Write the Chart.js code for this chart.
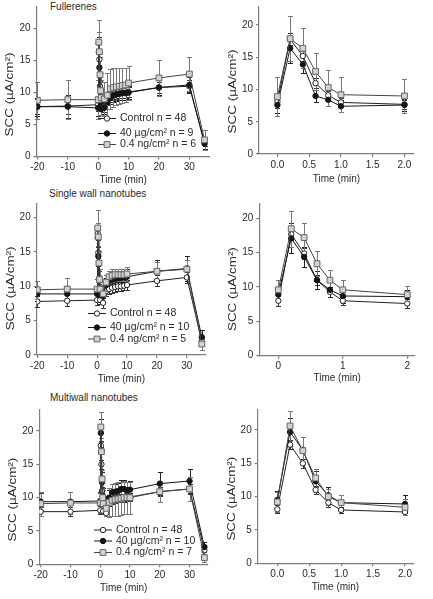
<!DOCTYPE html>
<html>
<head>
<meta charset="utf-8">
<script src="https://cdn.jsdelivr.net/npm/chart.js@4.4.1/dist/chart.umd.min.js"></script>
<style>
  body { margin: 0; background: #fff; width: 433px; height: 599px; position: relative; overflow: hidden;
         font-family: "Liberation Sans", Arial, sans-serif; }
  canvas { position: absolute; }
  .ttl { position: absolute; font-size: 10px; line-height: 12px; color: #2a2a2a; white-space: nowrap; }
</style>
</head>
<body>
<div class="ttl" style="left:50px;top:1px">Fullerenes</div>
<div class="ttl" style="left:49px;top:188px">Single wall nanotubes</div>
<div class="ttl" style="left:50px;top:392px">Multiwall nanotubes</div>
<canvas id="p1"></canvas><canvas id="p2"></canvas>
<canvas id="p3"></canvas><canvas id="p4"></canvas>
<canvas id="p5"></canvas><canvas id="p6"></canvas>
<script>
// time points (min); the right-hand panels show the 0-2 min part
const minutes = [-20, -10, 0, 0.2, 0.4, 0.6, 0.8, 1, 2, 3, 4, 5, 6, 7, 8, 9, 10, 20, 30, 35];
const yTicks = [0, 5, 10, 15, 20];
const longTicks = [-20, -10, 0, 10, 20, 30];
const shortTicks = [0, 0.5, 1, 1.5, 2];
const shortTicksInt = [0, 1, 2];

// Fullerenes
const fulControl    = [7.8, 7.9, 8.1, 17.8, 15.2, 11.0, 9.1, 8.0, 7.7, 8.8, 9.3, 9.6, 9.8, 9.9, 10.0, 10.0, 10.1, 10.8, 11.0, 2.2];
const fulControlSem = [1.2, 1.2, 1.0, 0.9, 0.8, 0.8, 0.7, 0.7, 0.7, 0.8, 0.8, 0.8, 0.8, 0.8, 0.8, 0.8, 0.8, 0.9, 0.9, 0.6];
const ful40ug       = [7.8, 7.8, 7.6, 16.4, 13.9, 9.0, 8.4, 7.4, 7.6, 8.5, 9.2, 9.5, 9.7, 9.8, 9.9, 9.9, 10.0, 10.8, 11.2, 2.0];
const ful40ugSem    = [1.4, 1.8, 1.2, 2.3, 1.3, 1.0, 1.0, 0.9, 1.0, 1.0, 1.0, 1.0, 1.0, 1.0, 1.0, 1.0, 1.0, 1.2, 1.3, 0.8];
const ful04ng       = [8.8, 8.9, 8.9, 17.9, 16.4, 12.8, 10.3, 9.2, 9.0, 9.6, 10.6, 10.8, 10.9, 11.0, 11.1, 11.2, 11.5, 12.3, 12.9, 2.6];
const ful04ngSem    = [2.9, 3.0, 3.0, 3.5, 3.1, 2.8, 2.8, 2.7, 2.7, 3.4, 3.1, 3.0, 2.9, 2.8, 2.7, 2.6, 2.6, 2.8, 2.7, 1.6];

// Single wall nanotubes
const swControl    = [7.8, 7.9, 8.0, 17.7, 14.9, 11.0, 9.3, 8.0, 7.6, 9.3, 9.6, 9.8, 9.9, 10.0, 10.0, 10.1, 10.2, 10.8, 11.3, 2.0];
const swControlSem = [0.8, 0.8, 0.7, 0.9, 0.8, 0.7, 0.7, 0.6, 0.7, 0.7, 0.7, 0.7, 0.7, 0.7, 0.7, 0.7, 0.7, 0.8, 0.8, 0.6];
const sw40ug       = [8.9, 8.9, 8.9, 17.1, 14.4, 11.0, 9.6, 8.7, 8.6, 10.2, 10.8, 11.0, 11.1, 11.2, 11.2, 11.3, 11.4, 12.2, 12.6, 2.6];
const sw40ugSem    = [1.0, 1.1, 1.0, 2.2, 1.5, 1.3, 1.1, 1.0, 1.0, 1.0, 1.0, 1.0, 1.0, 1.0, 1.0, 1.0, 1.1, 1.6, 1.8, 1.0];
const sw04ng       = [9.5, 9.6, 9.6, 18.5, 17.2, 13.4, 11.0, 9.6, 8.9, 10.6, 11.4, 11.6, 11.7, 11.7, 11.7, 11.7, 11.8, 12.2, 12.5, 1.6];
const sw04ngSem    = [1.3, 1.6, 1.4, 2.6, 2.1, 1.8, 1.5, 1.4, 1.3, 1.0, 0.9, 0.9, 0.9, 0.9, 0.9, 0.9, 1.0, 1.3, 1.4, 0.9];

// Multiwall nanotubes
const mwControl    = [7.9, 7.9, 8.1, 17.8, 15.0, 11.0, 9.1, 8.0, 7.7, 9.4, 9.7, 9.8, 9.9, 10.0, 10.0, 10.1, 10.1, 10.9, 11.3, 2.1];
const mwControlSem = [0.7, 0.7, 0.6, 0.7, 0.7, 0.6, 0.6, 0.5, 0.5, 0.6, 0.6, 0.6, 0.6, 0.6, 0.6, 0.6, 0.6, 0.7, 0.8, 0.5];
const mw40ug       = [9.4, 9.4, 9.5, 19.7, 17.0, 12.3, 10.2, 9.1, 8.9, 10.0, 10.8, 10.9, 11.0, 11.3, 11.3, 11.1, 11.2, 12.1, 12.5, 2.6];
const mw40ugSem    = [1.3, 1.5, 1.3, 2.1, 1.9, 1.6, 1.3, 1.2, 1.3, 1.2, 1.2, 1.2, 1.2, 1.3, 1.3, 1.3, 1.3, 1.7, 1.8, 0.7];
const mw04ng       = [9.1, 9.2, 9.2, 20.6, 16.9, 12.8, 10.0, 9.1, 8.4, 9.3, 9.6, 9.7, 9.8, 9.9, 10.0, 10.0, 10.0, 10.9, 11.3, 1.0];
const mw04ngSem    = [1.8, 1.7, 1.5, 2.2, 2.0, 1.4, 1.2, 1.1, 1.2, 2.2, 2.4, 2.5, 2.5, 2.5, 2.5, 2.4, 2.4, 1.6, 1.8, 0.6];

const legendFul = ["Control n = 48", "40 µg/cm² n = 9", "0.4 ng/cm² n = 6"];
const legendSw  = ["Control n = 48", "40 µg/cm² n = 10", "0.4 ng/cm² n = 5"];
const legendMw  = ["Control n = 48", "40 µg/cm² n = 10", "0.4 ng/cm² n = 7"];

const AXIS = "#7d7d7d";
const TEXT = "#2a2a2a";
const FONT = "'Liberation Sans', Arial, sans-serif";

// control, 40 µg, 0.4 ng
const STYLES = [
  { pointStyle: "circle", radius: 2.7, fill: "#ffffff", stroke: "#222", line: "#222", bar: "#333", order: 2 },
  { pointStyle: "circle", radius: 2.7, fill: "#151515", stroke: "#151515", line: "#151515", bar: "#222", order: 1 },
  { pointStyle: "rect", radius: 4.1, fill: "#d2d2d2", stroke: "#666", line: "#444", bar: "#777", order: 0 },
];

const errorBars = {
  id: "errorBars",
  beforeDatasetsDraw(chart) {
    const ctx = chart.ctx, ys = chart.scales.y;
    ctx.save();
    ctx.lineWidth = 1;
    chart.data.datasets.forEach((ds, i) => {
      const meta = chart.getDatasetMeta(i);
      ctx.strokeStyle = ds.barColor;
      meta.data.forEach((pt, j) => {
        const v = ds.data[j].y, e = ds.errors[j];
        const x = Math.round(pt.x) + 0.5;
        const top = Math.round(ys.getPixelForValue(v + e)) + 0.5;
        const bot = Math.round(ys.getPixelForValue(v - e)) + 0.5;
        ctx.beginPath();
        ctx.moveTo(x, top); ctx.lineTo(x, bot);
        ctx.moveTo(x - 2.5, top); ctx.lineTo(x + 2.5, top);
        ctx.moveTo(x - 2.5, bot); ctx.lineTo(x + 2.5, bot);
        ctx.stroke();
      });
    });
    ctx.restore();
  },
};

// y title centred on the 0-20 part of the axis, stretched like the original
const yTitle = {
  id: "yTitle",
  afterDraw(chart) {
    const ctx = chart.ctx, ys = chart.scales.y;
    ctx.save();
    ctx.translate(chart.chartArea.left - 26, ys.getPixelForValue(9.7));
    ctx.rotate(-Math.PI / 2);
    ctx.scale(1.28, 1);
    ctx.font = "10.5px " + FONT;
    ctx.fillStyle = TEXT;
    ctx.textAlign = "center";
    ctx.textBaseline = "middle";
    ctx.fillText("SCC (µA/cm²)", 0, 0);
    ctx.restore();
  },
};

// legend rows are offsets below the top of the plot area
const panelLegend = {
  id: "panelLegend",
  afterDraw(chart, args, opts) {
    if (!opts.items) return;
    const ctx = chart.ctx, ca = chart.chartArea;
    ctx.save();
    opts.items.forEach((label, i) => {
      const st = STYLES[i];
      const y = ca.top + opts.rows[i];
      const x0 = ca.left + opts.dx;
      ctx.strokeStyle = st.line;
      ctx.lineWidth = 1;
      ctx.beginPath();
      ctx.moveTo(x0, y); ctx.lineTo(x0 + 18, y);
      ctx.stroke();
      ctx.fillStyle = st.fill;
      ctx.strokeStyle = st.stroke;
      Chart.helpers.drawPoint(ctx, { pointStyle: st.pointStyle, radius: st.radius, rotation: 0, borderWidth: 1 }, x0 + 9, y);
      ctx.fillStyle = TEXT;
      ctx.font = "10.5px " + FONT;
      ctx.textBaseline = "middle";
      ctx.fillText(label, x0 + 22, y);
    });
    ctx.restore();
  },
};

function makePanel(p) {
  const right = p.col === 1;
  const cx = right ? 218 : 0;
  const cw = right ? 215 : 216;
  const cy = Math.floor(p.area.t) - 16;
  const ch = Math.ceil(p.titleY + 10 - cy);
  const cv = document.getElementById(p.id);
  cv.width = cw; cv.height = ch;
  cv.style.left = cx + "px"; cv.style.top = cy + "px";

  const idx = minutes.map((t, i) => i).filter(i => !right || (minutes[i] >= 0 && minutes[i] <= 2));
  const datasets = p.series.map((s, k) => {
    const st = STYLES[k];
    return {
      data: idx.map(i => ({ x: minutes[i], y: s.values[i] })),
      errors: idx.map(i => s.sem[i]),
      barColor: st.bar,
      borderColor: st.line,
      borderWidth: 1,
      backgroundColor: st.fill,
      pointStyle: st.pointStyle,
      pointRadius: st.radius,
      pointBackgroundColor: st.fill,
      pointBorderColor: st.stroke,
      pointBorderWidth: 1,
      tension: 0,
      order: st.order,
    };
  });

  const tickFont = { family: FONT, size: 10 };
  new Chart(cv, {
    type: "line",
    data: { datasets },
    options: {
      responsive: false,
      animation: false,
      devicePixelRatio: 1,
      layout: { padding: { left: 0, top: p.area.t - cy, right: cx + cw - p.area.r, bottom: 0 } },
      plugins: {
        legend: { display: false },
        tooltip: { enabled: false },
        panelLegend: p.legend || {},
      },
      scales: {
        x: {
          type: "linear",
          min: p.x[0], max: p.x[1],
          afterFit: s => { s.height = cy + ch - p.area.b; },
          afterBuildTicks: s => { s.ticks = p.ticks.map(v => ({ value: v })); },
          ticks: { callback: v => v.toFixed(p.dec), font: tickFont, color: TEXT, padding: 2, maxRotation: 0, autoSkip: false },
          grid: { drawOnChartArea: false, tickLength: 3, color: AXIS, lineWidth: 1.2 },
          border: { color: AXIS, width: 1.2 },
          title: { display: true, text: "Time (min)", font: { family: FONT, size: 10 }, color: TEXT, padding: { top: 0, bottom: 4 } },
        },
        y: {
          type: "linear",
          min: 0, max: p.y,
          afterFit: s => { s.width = p.area.l - cx; },
          afterBuildTicks: s => { s.ticks = yTicks.map(v => ({ value: v })); },
          ticks: { font: tickFont, color: TEXT, padding: 3 },
          grid: { drawOnChartArea: false, tickLength: 3, color: AXIS, lineWidth: 1.2 },
          border: { color: AXIS, width: 1.2 },
        },
      },
    },
    plugins: [errorBars, yTitle, panelLegend],
  });
}

const fulSeries = [
  { values: fulControl, sem: fulControlSem },
  { values: ful40ug, sem: ful40ugSem },
  { values: ful04ng, sem: ful04ngSem },
];
const swSeries = [
  { values: swControl, sem: swControlSem },
  { values: sw40ug, sem: sw40ugSem },
  { values: sw04ng, sem: sw04ngSem },
];
const mwSeries = [
  { values: mwControl, sem: mwControlSem },
  { values: mw40ug, sem: mw40ugSem },
  { values: mw04ng, sem: mw04ngSem },
];

const panels = [
  { id: "p1", col: 0, area: { l: 36.5, t: 7, r: 210, b: 156.5 }, x: [-20.3, 36.8], y: 23.4, ticks: longTicks, dec: 0, titleY: 180,
    series: fulSeries, legend: { items: legendFul, dx: 61.5, rows: [111.5, 126.5, 137.5] } },
  { id: "p2", col: 1, area: { l: 259, t: 7, r: 414, b: 154 }, x: [-0.29, 2.15], y: 22.8, ticks: shortTicks, dec: 1, titleY: 179,
    series: fulSeries },
  { id: "p3", col: 0, area: { l: 36.7, t: 203.3, r: 206, b: 355 }, x: [-20.2, 36.4], y: 22.1, ticks: longTicks, dec: 0, titleY: 378.3,
    series: swSeries, legend: { items: legendSw, dx: 51.3, rows: [110.2, 124.2, 135.7] } },
  { id: "p4", col: 1, area: { l: 259.3, t: 203.3, r: 415, b: 355.7 }, x: [-0.295, 2.12], y: 22.2, ticks: shortTicksInt, dec: 0, titleY: 377.7,
    series: swSeries },
  { id: "p5", col: 0, area: { l: 39.3, t: 410, r: 208, b: 564.3 }, x: [-20.47, 36.2], y: 23.15, ticks: longTicks, dec: 0, titleY: 587.7,
    series: mwSeries, legend: { items: legendMw, dx: 54.7, rows: [120, 131, 142.5] } },
  { id: "p6", col: 1, area: { l: 257.7, t: 410, r: 413.3, b: 563.3 }, x: [-0.307, 2.13], y: 23.0, ticks: shortTicks, dec: 1, titleY: 586.7,
    series: mwSeries },
];

panels.forEach(makePanel);
</script>
</body>
</html>
